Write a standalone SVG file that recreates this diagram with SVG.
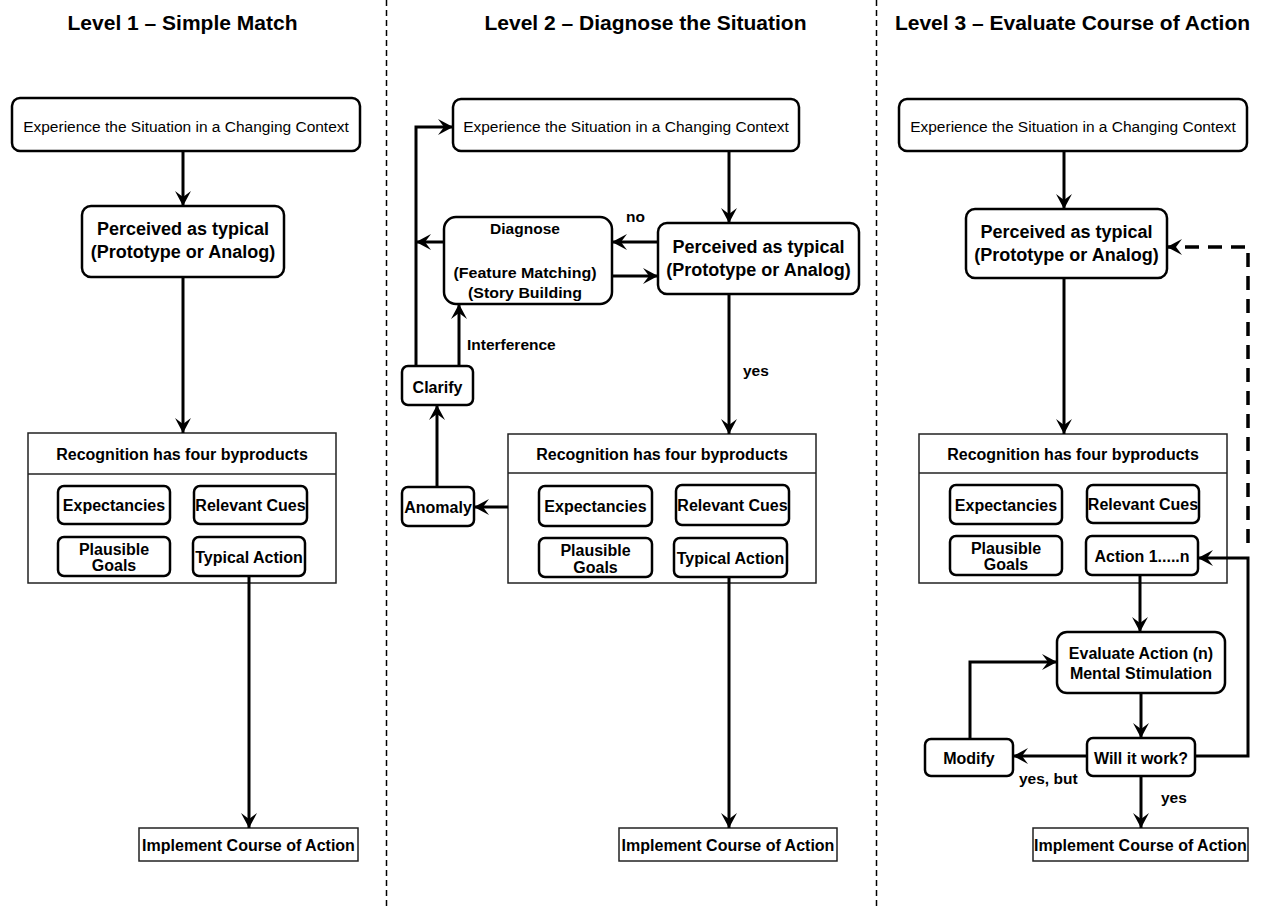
<svg xmlns="http://www.w3.org/2000/svg" width="1263" height="907" viewBox="0 0 1263 907">
<style>
text{font-family:"Liberation Sans",Arial,Helvetica,sans-serif;fill:#000}
.t{font-size:21px;font-weight:bold;text-anchor:middle}
.exp{font-size:15.5px;text-anchor:middle}
.per{font-size:18px;font-weight:bold;text-anchor:middle}
.b{font-size:16px;font-weight:bold;text-anchor:middle}
.d{font-size:15.5px;font-weight:bold;text-anchor:middle}
.lbl{font-size:15.5px;font-weight:bold}
.node{fill:#fff;stroke:#000;stroke-width:2.5}
.cont{fill:#fff;stroke:#222;stroke-width:1.5}
.sep{stroke:#000;stroke-width:1.5;stroke-dasharray:6 4;fill:none}
.c{fill:none;stroke:#000;stroke-width:3;marker-end:url(#ah)}
.cd{fill:none;stroke:#000;stroke-width:3.5;stroke-dasharray:14 9;marker-end:url(#ah)}
</style>
<defs>
<marker id="ah" markerUnits="userSpaceOnUse" markerWidth="16" markerHeight="16" refX="15" refY="8" orient="auto" overflow="visible">
<path d="M0,0 L15,8 L0,16 L6,8 Z" fill="#000"/>
</marker>
</defs>
<rect width="1263" height="907" fill="#fff"/>
<g id="separators">
<line class="sep" x1="386.5" y1="0" x2="386.5" y2="907"/>
<line class="sep" x1="876.5" y1="0" x2="876.5" y2="907"/>
</g>
<g id="titles">
<text class="t" x="182.5" y="30">Level 1 – Simple Match</text>
<text class="t" x="645.5" y="30">Level 2 – Diagnose the Situation</text>
<text class="t" x="1072.5" y="30">Level 3 – Evaluate Course of Action</text>
</g>
<!-- Level 1 nodes -->
<g id="l1-experience">
<rect class="node" x="12" y="98" width="348" height="53" rx="8"/>
<text class="exp" x="186" y="131.5">Experience the Situation in a Changing Context</text>
</g>
<g id="l1-perceived">
<rect class="node" x="82" y="206" width="202" height="71" rx="9"/>
<text class="per" x="183" y="235">Perceived as typical</text>
<text class="per" x="183" y="258">(Prototype or Analog)</text>
</g>
<g id="l1-recognition">
<rect class="cont" x="28" y="433" width="308" height="150"/>
<line x1="28" y1="474" x2="336" y2="474" stroke="#222" stroke-width="1.5"/>
<text class="b" x="182" y="460">Recognition has four byproducts</text>
<rect class="node" x="58" y="486" width="112" height="38" rx="6"/>
<text class="b" x="114" y="511">Expectancies</text>
<rect class="node" x="194" y="486" width="113" height="38" rx="6"/>
<text class="b" x="250.5" y="511">Relevant Cues</text>
<rect class="node" x="58" y="537" width="112" height="39" rx="6"/>
<text class="b" x="114" y="555">Plausible</text>
<text class="b" x="114" y="571">Goals</text>
<rect class="node" x="193" y="537" width="112" height="39" rx="6"/>
<text class="b" x="249" y="563">Typical Action</text>
</g>
<g id="l1-implement">
<rect class="cont" x="139" y="828" width="219" height="33"/>
<text class="b" x="248.5" y="850.5">Implement Course of Action</text>
</g>
<!-- Level 2 nodes -->
<g id="l2-experience">
<rect class="node" x="453" y="99" width="346" height="52" rx="8"/>
<text class="exp" x="626" y="131.5">Experience the Situation in a Changing Context</text>
</g>
<g id="l2-perceived">
<rect class="node" x="658" y="223" width="201" height="71" rx="9"/>
<text class="per" x="758.5" y="252.5">Perceived as typical</text>
<text class="per" x="758.5" y="275.5">(Prototype or Analog)</text>
</g>
<g id="l2-diagnose">
<rect class="node" x="444" y="217" width="168" height="87" rx="12"/>
<text class="d" x="525" y="234">Diagnose</text>
<text class="d" x="525" y="277.5" textLength="143" lengthAdjust="spacingAndGlyphs">(Feature Matching)</text>
<text class="d" x="525" y="297.5" textLength="114" lengthAdjust="spacingAndGlyphs">(Story Building</text>
</g>
<g id="l2-clarify">
<rect class="node" x="402" y="366" width="71" height="39" rx="6"/>
<text class="b" x="437.5" y="392.5">Clarify</text>
</g>
<g id="l2-anomaly">
<rect class="node" x="402" y="487" width="72" height="39" rx="6"/>
<text class="b" x="438" y="512.5">Anomaly</text>
</g>
<g id="l2-recognition">
<rect class="cont" x="508" y="434" width="308" height="149"/>
<line x1="508" y1="473" x2="816" y2="473" stroke="#222" stroke-width="1.5"/>
<text class="b" x="662" y="459.5">Recognition has four byproducts</text>
<rect class="node" x="539" y="486" width="113" height="40" rx="6"/>
<text class="b" x="595.5" y="512">Expectancies</text>
<rect class="node" x="676" y="485" width="113" height="40" rx="6"/>
<text class="b" x="732.5" y="511">Relevant Cues</text>
<rect class="node" x="539" y="538" width="113" height="39" rx="6"/>
<text class="b" x="595.5" y="556">Plausible</text>
<text class="b" x="595.5" y="572.5">Goals</text>
<rect class="node" x="674" y="538" width="113" height="39" rx="6"/>
<text class="b" x="730.5" y="564">Typical Action</text>
</g>
<g id="l2-implement">
<rect class="cont" x="619" y="828" width="218" height="33"/>
<text class="b" x="728" y="850.5">Implement Course of Action</text>
</g>
<!-- Level 3 nodes -->
<g id="l3-experience">
<rect class="node" x="899" y="99" width="348" height="52" rx="8"/>
<text class="exp" x="1073" y="131.5">Experience the Situation in a Changing Context</text>
</g>
<g id="l3-perceived">
<rect class="node" x="966" y="209" width="201" height="69" rx="9"/>
<text class="per" x="1066.5" y="237.5">Perceived as typical</text>
<text class="per" x="1066.5" y="260.5">(Prototype or Analog)</text>
</g>
<g id="l3-recognition">
<rect class="cont" x="919" y="434" width="308" height="149"/>
<line x1="919" y1="473" x2="1227" y2="473" stroke="#222" stroke-width="1.5"/>
<text class="b" x="1073" y="459.5">Recognition has four byproducts</text>
<rect class="node" x="950" y="485" width="112" height="39" rx="6"/>
<text class="b" x="1006" y="510.5">Expectancies</text>
<rect class="node" x="1087" y="485" width="112" height="38" rx="6"/>
<text class="b" x="1143" y="510">Relevant Cues</text>
<rect class="node" x="950" y="536" width="112" height="39" rx="6"/>
<text class="b" x="1006" y="553.5">Plausible</text>
<text class="b" x="1006" y="570">Goals</text>
<rect class="node" x="1086" y="536" width="112" height="39" rx="6"/>
<text class="b" x="1142" y="562">Action 1.....n</text>
</g>
<g id="l3-evaluate">
<rect class="node" x="1057" y="632" width="168" height="61" rx="10"/>
<text class="b" x="1141" y="659">Evaluate Action (n)</text>
<text class="b" x="1141" y="679">Mental Stimulation</text>
</g>
<g id="l3-will">
<rect class="node" x="1087" y="738" width="108" height="38" rx="6"/>
<text class="b" x="1141" y="764">Will it work?</text>
</g>
<g id="l3-modify">
<rect class="node" x="925" y="739" width="88" height="37" rx="6"/>
<text class="b" x="969" y="764">Modify</text>
</g>
<g id="l3-implement">
<rect class="cont" x="1033" y="828" width="215" height="33"/>
<text class="b" x="1140.5" y="850.5">Implement Course of Action</text>
</g>
<g id="connectors">
<!-- Level 1 -->
<path class="c" d="M183,151 V206"/>
<path class="c" d="M183,277 V433"/>
<path class="c" d="M249,576 V828"/>
<!-- Level 2 -->
<path class="c" d="M416,366 V127 H453"/>
<path class="c" d="M444,242 H416"/>
<path class="c" d="M729,151 V223"/>
<path class="c" d="M658,242 H612"/>
<path class="c" d="M612,276 H658"/>
<path class="c" d="M459,366 V304"/>
<path class="c" d="M437,487 V405"/>
<path class="c" d="M508,507 H474"/>
<path class="c" d="M729,294 V434"/>
<path class="c" d="M729,577 V828"/>
<!-- Level 3 -->
<path class="c" d="M1064,151 V209"/>
<path class="c" d="M1064,278 V434"/>
<path class="cd" d="M1248,543 V247 H1167"/>
<path class="c" d="M1195,756 H1248 V558 H1198"/>
<path class="c" d="M1140,575 V632"/>
<path class="c" d="M1141,693 V738"/>
<path class="c" d="M1087,756 H1013"/>
<path class="c" d="M970,739 V662 H1057"/>
<path class="c" d="M1141,776 V828"/>
</g>
<g id="labels">
<text class="lbl" x="626" y="222">no</text>
<text class="lbl" x="467" y="350">Interference</text>
<text class="lbl" x="743" y="376">yes</text>
<text class="lbl" x="1019" y="784">yes, but</text>
<text class="lbl" x="1161" y="803">yes</text>
</g>
</svg>
